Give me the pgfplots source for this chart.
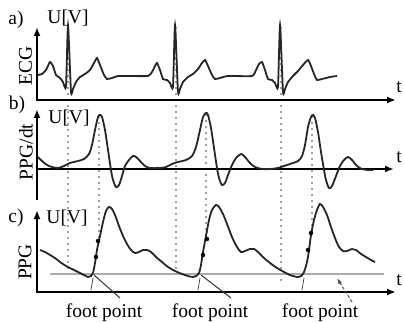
\documentclass[border=0pt]{standalone}
\usepackage{pgfplots}
\pgfplotsset{compat=1.18}
\usepackage{fontspec}
\setmainfont{Liberation Serif}
\usetikzlibrary{arrows.meta}
\begin{document}
\begin{tikzpicture}[every node/.style={font=\fontsize{19.5}{22}\selectfont, inner sep=0pt}]
\begin{axis}[width=404pt,height=323pt,scale only axis,
  xmin=0,xmax=404,ymin=0,ymax=323,y dir=reverse,hide axis,clip=false]
\addplot[draw=none] coordinates {(0,0)(404,323)};
% dotted guide lines
\pgfplotsset{guide/.style={gray!75, line width=1.7pt, dash pattern=on 1.7pt off 4.3pt}}
\addplot[guide] coordinates {(68,27)(68,273)};
\addplot[guide] coordinates {(176,27)(176,273)};
\addplot[guide] coordinates {(281,27)(281,282)};
\addplot[guide] coordinates {(99,116)(99,240)};
\addplot[guide] coordinates {(206,114)(206,238)};
\addplot[guide] coordinates {(312,116)(312,232)};
% gray threshold line
\addplot[gray!65, line width=2pt] coordinates {(50,274)(384,274)};
% axes
\pgfplotsset{ax/.style={black, line width=2pt, -{Latex[length=9pt,width=7pt]}}}
\addplot[ax] coordinates {(37,101)(37,27)};
\addplot[ax] coordinates {(36,100)(396,100)};
\addplot[ax] coordinates {(37,200)(37,109)};
\addplot[ax] coordinates {(36,169)(394,169)};
\addplot[ax] coordinates {(37,293)(37,210)};
\addplot[ax] coordinates {(36,292)(396,292)};
% ECG
\addplot[black!85, line width=1.8pt, smooth, tension=0.3] coordinates {
(38,75)(42,74)(46,70)(50,62)(53,66)(56,75)(60,78)(63,82)(66,87)(68,25)(71,92)(73,89)(76,82)(80,77)(85,74)(90,70)(94,63)(97,58)(100,65)(104,75)(107,79)(112,78)(118,76)(130,76)(148,76)(152,72)(155,66)(157,63)(160,70)(163,79)(167,80)(170,83)(173,87)(175,25)(178,92)(180,89)(183,82)(188,77)(193,74)(198,69)(202,63)(205,60)(208,66)(212,75)(215,79)(220,78)(228,76)(252,76)(256,70)(259,64)(262,62)(265,70)(268,79)(272,80)(275,83)(278,87)(280,25)(283,92)(285,89)(288,82)(293,76)(298,71)(303,65)(308,60)(311,66)(314,74)(317,80)(322,79)(330,77)(337,76)};
% PPG/dt
\addplot[black!85, line width=1.8pt, smooth, tension=0.5] coordinates {
(38,157)(42,161)(47,165)(52,167)(58,168)(64,166)(70,163)(78,161)(84,159)(89,154)(92,145)(95,130)(98,117)(100,115)(102,117)(105,130)(108,150)(111,170)(113,180)(116,187)(119,185)(122,176)(125,166)(129,160)(133,156)(136,157)(140,161)(145,166)(150,168)(160,168)(166,167)(172,164)(178,162)(186,160)(192,156)(196,147)(200,130)(203,117)(206,113)(208,115)(211,128)(214,148)(217,168)(219,178)(222,185)(225,183)(228,175)(232,165)(236,158)(241,154)(245,157)(250,163)(255,167)(262,169)(270,169)(278,168)(284,166)(290,164)(298,161)(302,156)(305,145)(308,127)(311,117)(313,115)(315,118)(318,132)(321,152)(324,170)(326,180)(329,188)(332,186)(336,176)(340,166)(344,160)(348,157)(352,160)(357,166)(362,169)(368,170)(373,170)};
% PPG
\addplot[black!85, line width=1.8pt, smooth, tension=0.5] coordinates {
(40,250)(45,252)(50,255)(55,258)(60,262)(66,266)(72,269)(78,272)(84,275)(88,277)(91,276)(93,273)(95,263)(97,250)(100,236)(103,222)(106,211)(109,207)(112,209)(115,215)(119,226)(123,236)(127,244)(131,250)(135,253)(139,252)(143,250)(147,250)(151,252)(156,257)(162,262)(168,267)(175,271)(182,274)(188,276)(193,277)(196,276)(199,273)(201,265)(203,252)(206,236)(209,220)(212,210)(216,205)(219,207)(223,214)(227,224)(232,237)(237,247)(241,252)(245,251)(250,249)(254,249)(258,252)(264,258)(270,263)(277,268)(284,272)(290,275)(297,277)(301,276)(304,272)(307,262)(309,250)(311,235)(314,220)(317,210)(320,204)(323,207)(327,215)(331,227)(335,238)(339,247)(343,251)(347,251)(352,249)(356,250)(361,254)(366,257)(371,260)(375,262)};
% points on rising edges
\addplot[only marks, mark=*, mark size=2pt, black] coordinates {(98,241)(96,257)(207,239)(203,255)(311,233)(308,250)};
% tangent stubs at foot points
\addplot[black!70, line width=0.8pt] coordinates {(93,278)(91,290)};
\addplot[black!70, line width=0.8pt] coordinates {(200,278)(198,290)};
\addplot[black!70, line width=0.8pt] coordinates {(304,278)(302,290)};
% leaders
\addplot[black!80, line width=1pt] coordinates {(94,275)(120,298)};
\addplot[black!80, line width=1pt] coordinates {(201,275)(231,298)};
\addplot[black!70, line width=1pt, dash pattern=on 3pt off 2pt, -{Latex[length=6pt,width=4pt]}] coordinates {(352,302)(337,278)};
% labels
\node at (axis cs:16,20) {a)};
\node at (axis cs:68,18) {U[V]};
\node[rotate=90] at (axis cs:25.5,66) {ECG};
\node at (axis cs:399,87) {t};
\node at (axis cs:17,105) {b)};
\node at (axis cs:69,118) {U[V]};
\node[rotate=90] at (axis cs:26,152) {PPG/dt};
\node at (axis cs:399,157) {t};
\node at (axis cs:16,218) {c)};
\node at (axis cs:67,218) {U[V]};
\node[rotate=90] at (axis cs:25,262) {PPG};
\node at (axis cs:399,280) {t};
\node at (axis cs:104,313) {foot point};
\node at (axis cs:210,313) {foot point};
\node at (axis cs:320,313) {foot point};
\end{axis}
\end{tikzpicture}
\end{document}
